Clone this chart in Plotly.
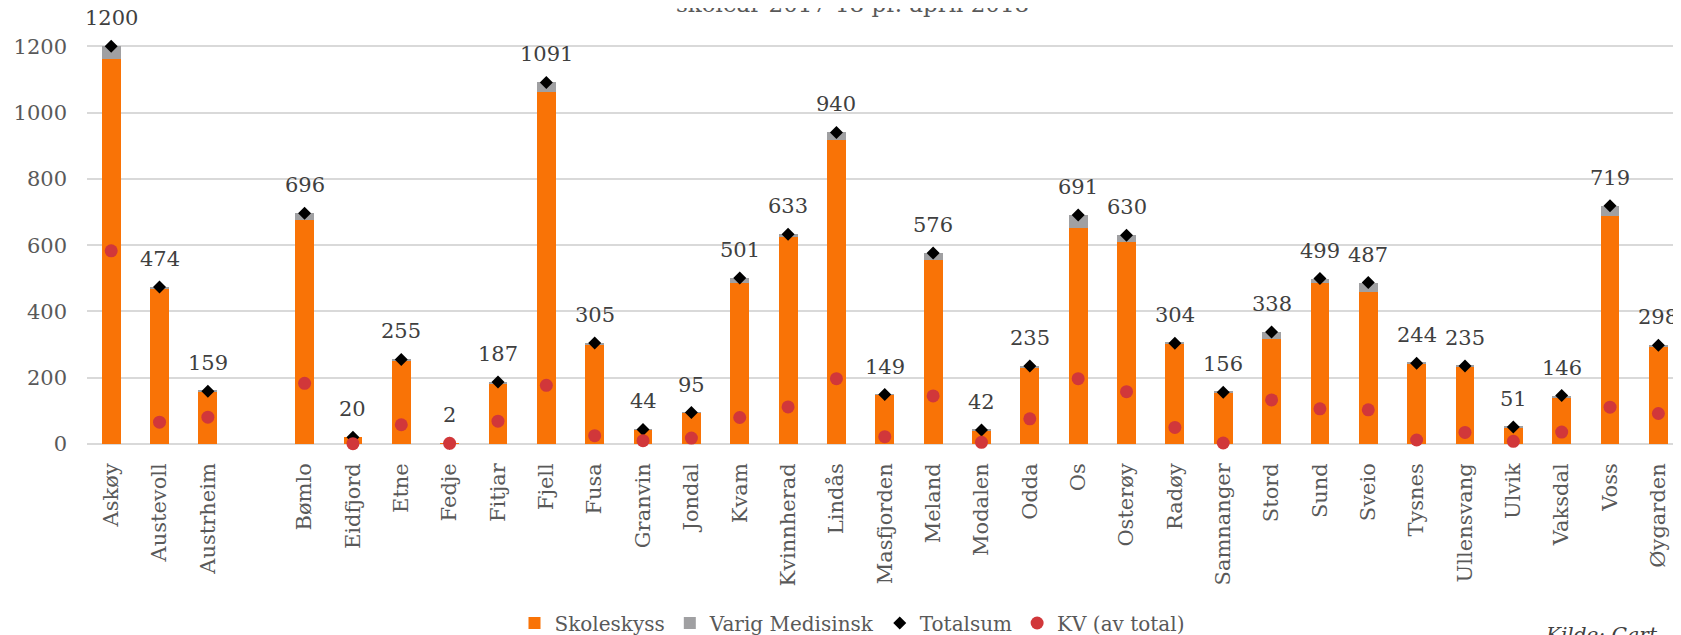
import plotly.graph_objects as go

categories = ["Askøy", "Austevoll", "Austrheim", "", "Bømlo", "Eidfjord", "Etne", "Fedje",
              "Fitjar", "Fjell", "Fusa", "Granvin", "Jondal", "Kvam", "Kvinnherad", "Lindås",
              "Masfjorden", "Meland", "Modalen", "Odda", "Os", "Osterøy", "Radøy", "Samnanger",
              "Stord", "Sund", "Sveio", "Tysnes", "Ullensvang", "Ulvik", "Vaksdal", "Voss", "Øygarden"]

skoleskyss = [1163, 469, 156, None, 676, 20, 251, 2, 182, 1061, 300, 42, 93, 486, 625, 918,
              147, 556, 40, 230, 653, 608, 301, 154, 316, 487, 459, 242, 232, 49, 140, 689, 293]
varig_medisinsk = [37, 5, 3, None, 20, 0, 4, 0, 5, 30, 5, 2, 2, 15, 8, 22,
                   2, 20, 2, 5, 38, 22, 3, 2, 22, 12, 28, 2, 3, 2, 6, 30, 5]
totalsum = [1200, 474, 159, None, 696, 20, 255, 2, 187, 1091, 305, 44, 95, 501, 633, 940,
            149, 576, 42, 235, 691, 630, 304, 156, 338, 499, 487, 244, 235, 51, 146, 719, 298]
kv_av_total = [583, 66, 81, None, 183, 1, 58, 2, 69, 177, 25, 10, 18, 80, 112, 197,
               22, 145, 5, 76, 197, 158, 50, 3, 133, 106, 103, 12, 35, 8, 36, 111, 92]

y_ticks = [0, 200, 400, 600, 800, 1000, 1200]
title_text = "skoleår 2017-18 pr. april 2018"
source_text = "Kilde: Gart"

FONT = "DejaVu Serif"
ORANGE = "#F97306"
GRAY = "#A0A0A2"
RED = "#D1373A"

x = list(range(len(categories)))
tick_idx = [i for i, c in enumerate(categories) if c]
tick_txt = [categories[i] for i in tick_idx]

fig = go.Figure()
fig.add_trace(go.Bar(x=x, y=skoleskyss, name="Skoleskyss", marker=dict(color=ORANGE, line=dict(width=0)),
                     width=0.39))
fig.add_trace(go.Bar(x=x, y=varig_medisinsk, name="Varig Medisinsk", marker=dict(color=GRAY, line=dict(width=0)),
                     width=0.39))
fig.add_trace(go.Scatter(x=x, y=totalsum, name="Totalsum", mode="markers", cliponaxis=False,
                         marker=dict(symbol="diamond", size=10, color="black")))
fig.add_trace(go.Scatter(x=x, y=kv_av_total, name="KV (av total)", mode="markers", cliponaxis=False,
                         marker=dict(symbol="circle", size=13, color=RED)))

for i, t in enumerate(totalsum):
    if t is None:
        continue
    fig.add_annotation(x=i, y=t, text=str(t), showarrow=False, yshift=28, yanchor="middle",
                       font=dict(family=FONT, size=21, color="#404040"))

W, H = 1681, 635
L = 79
PW = W - L
px_unit_x = 48.35
y0_px = 436
y1200_px = 38.3
px_per_unit = (y0_px - y1200_px) / 1200
ytop = 1215
top_px = y0_px - ytop * px_per_unit

fig.add_annotation(xref="paper", yref="paper", x=(844 - L) / PW, y=1 + 4 / H, xanchor="center",
                   yanchor="middle", text=title_text, showarrow=False,
                   font=dict(family=FONT, size=23, color="#595959"))
fig.add_annotation(xref="paper", yref="paper", x=(1535 - L) / PW, y=1 - 613 / H, xanchor="left",
                   yanchor="top", text="<i>" + source_text + "</i>", showarrow=False,
                   font=dict(family=FONT, size=20, color="#404040"))

fig.update_layout(
    width=W, height=H,
    margin=dict(l=L, r=0, t=0, b=0, autoexpand=False),
    barmode="stack",
    plot_bgcolor="white", paper_bgcolor="white",
    font=dict(family=FONT, size=20, color="#595959"),
    showlegend=True,
    legend=dict(orientation="h", traceorder="normal", x=(844 - L) / PW, xanchor="center",
                y=1 - 615 / H, yanchor="middle",
                font=dict(family=FONT, size=20, color="#595959"), bgcolor="rgba(0,0,0,0)",
                itemclick=False),
    xaxis=dict(range=[-0.5, -0.5 + PW / px_unit_x], domain=[0, 1], tickmode="array", tickvals=tick_idx,
               ticktext=tick_txt, tickangle=-90, showgrid=False, zeroline=False, showline=False, ticks="",
               ticklabelstandoff=14, tickfont=dict(family=FONT, size=21, color="#595959")),
    yaxis=dict(range=[0, ytop], domain=[(H - y0_px) / H, (H - top_px) / H], tickmode="array", tickvals=y_ticks,
               showgrid=True, gridcolor="#D9D9D9", gridwidth=1.5, zeroline=True, zerolinecolor="#D9D9D9",
               zerolinewidth=1.5, showline=False, ticks="", ticklabelstandoff=19,
               tickfont=dict(family=FONT, size=21, color="#595959")),
)

fig.write_html("out.html")
